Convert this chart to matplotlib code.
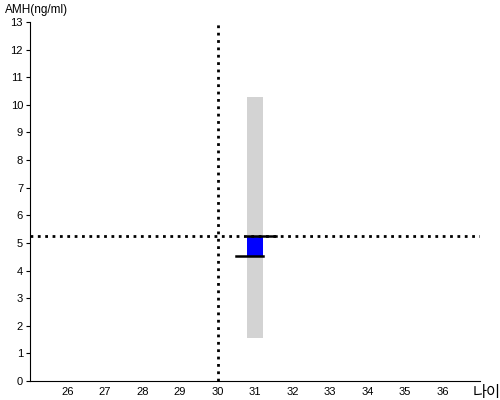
import matplotlib
matplotlib.use('Agg')
import matplotlib.pyplot as plt
import matplotlib.patches as mpatches

plt.rcParams['font.family'] = ['Liberation Sans', 'Noto Sans CJK KR', 'DejaVu Sans']

# data
age = 31
range_lo, range_hi = 1.55, 10.3      # grey reference range
amh_now, amh_pred = 5.25, 4.52       # blue box bounds
ref_age, ref_amh = 30, 5.25          # dotted crosshair
x_ticks = list(range(26, 37))
y_ticks = list(range(0, 14))

fig = plt.figure(figsize=(5, 4), dpi=100)
ax = fig.add_axes([0.06, 0.0475, 0.90, 0.8975])

half = 0.21
ax.add_patch(mpatches.Rectangle((age - half, range_lo), 2 * half, range_hi - range_lo,
                                facecolor='#d3d3d3', edgecolor='none', zorder=1))
ax.add_patch(mpatches.Rectangle((age - half, amh_pred), 2 * half, amh_now - amh_pred,
                                facecolor='#0000ff', edgecolor='none', zorder=2))
ax.plot([age - half, age + 0.55], [amh_now, amh_now], color='black', lw=1.8, zorder=3)
ax.plot([age - 0.52, age + half], [amh_pred, amh_pred], color='black', lw=1.8, zorder=3)

ax.axvline(ref_age, color='black', ls=':', lw=2, zorder=2)
ax.axhline(ref_amh, color='black', ls=':', lw=2, zorder=2)

ax.set_xlim(25, 37)
ax.set_ylim(0, 13)
ax.set_xticks(x_ticks)
ax.set_yticks(y_ticks)
ax.tick_params(axis='x', length=0, labelsize=8, pad=4)
ax.tick_params(axis='y', length=3, labelsize=8, pad=2)
ax.spines['top'].set_visible(False)
ax.spines['right'].set_visible(False)

fig.text(0.01, 0.975, 'AMH(ng/ml)', fontsize=8.5, va='center', ha='left')
fig.text(0.946, 0.018, '나이', fontsize=11, va='center', ha='left')

plt.savefig('out.png', dpi=100)
